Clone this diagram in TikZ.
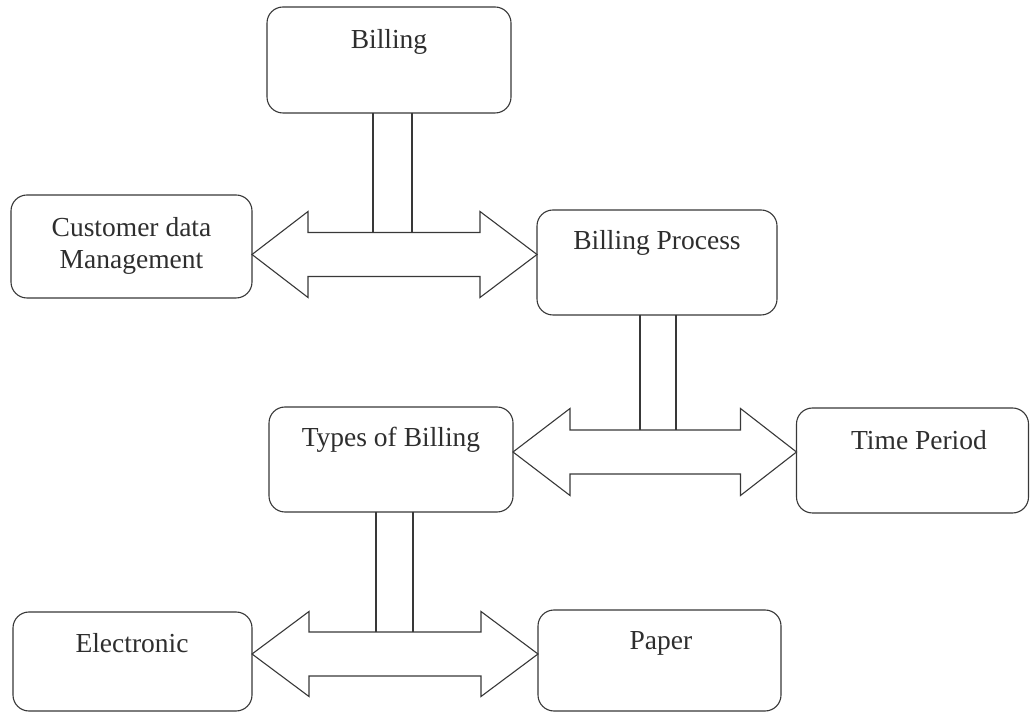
\documentclass[tikz,border=0pt]{standalone}
\usepackage{fontspec}
\setmainfont{Liberation Serif}
\usetikzlibrary{calc}
\begin{document}
\begin{tikzpicture}[x=1pt,y=1pt,
  every node/.style={inner sep=0pt, outer sep=0pt},
  box/.style={draw=black!78, line width=1.1pt, rounded corners=16pt, fill=white},
  lbl/.style={text=black!82, font=\fontsize{27.5}{32}\selectfont, align=center},
  blk/.style={draw=black!78, line width=1.1pt, fill=white, line join=miter},
  stemline/.style={draw=black!78, line width=1.1pt}]
\useasboundingbox (0,0) rectangle (1030,712);

% boxes
\node[box, minimum width=244pt, minimum height=106pt] (bill)  at (389,652) {};
\node[box, minimum width=241pt, minimum height=103pt] (cust)  at (131.5,465.5) {};
\node[box, minimum width=240pt, minimum height=105pt] (proc)  at (657,449.5) {};
\node[box, minimum width=244pt, minimum height=105pt] (types) at (391,252.5) {};
\node[box, minimum width=232pt, minimum height=105pt] (time)  at (912.5,251.5) {};
\node[box, minimum width=239pt, minimum height=99pt]  (elec)  at (132.5,50.5) {};
\node[box, minimum width=243pt, minimum height=101pt] (paper) at (659.5,51.5) {};

% labels
\node[lbl] (billT)  at (389,670) {Billing};
\node[lbl] (custT)  at (131.5,466) {Customer data\\Management};
\node[lbl] (procT)  at (657,469) {Billing Process};
\node[lbl] (typesT) at (391,272) {Types of Billing};
\node[lbl] (timeT)  at (919,272) {Time Period};
\node[lbl] (elecT)  at (132,69) {Electronic};
\node[lbl] (paperT) at (661,69) {Paper};

% axes of the block arrows
\coordinate (ax1) at (0,457.5);
\coordinate (ax2) at (0,260);
\coordinate (ax3) at (0,58);

% double block arrows
\draw[blk] let \p1=(cust.east|-ax1), \p2=(proc.west|-ax1) in
  (\p1) -- (\x1+56pt,\y1+43pt) -- (\x1+56pt,\y1+22pt) -- (\x2-57pt,\y1+22pt) -- (\x2-57pt,\y1+43pt)
  -- (\p2) -- (\x2-57pt,\y1-43pt) -- (\x2-57pt,\y1-22pt) -- (\x1+56pt,\y1-22pt) -- (\x1+56pt,\y1-43pt) -- cycle;
\draw[blk] let \p1=(types.east|-ax2), \p2=(time.west|-ax2) in
  (\p1) -- (\x1+57pt,\y1+43.5pt) -- (\x1+57pt,\y1+22pt) -- (\x2-56pt,\y1+22pt) -- (\x2-56pt,\y1+43.5pt)
  -- (\p2) -- (\x2-56pt,\y1-43.5pt) -- (\x2-56pt,\y1-22pt) -- (\x1+57pt,\y1-22pt) -- (\x1+57pt,\y1-43.5pt) -- cycle;
\draw[blk] let \p1=(elec.east|-ax3), \p2=(paper.west|-ax3) in
  (\p1) -- (\x1+57pt,\y1+42.5pt) -- (\x1+57pt,\y1+22pt) -- (\x2-57pt,\y1+22pt) -- (\x2-57pt,\y1+42.5pt)
  -- (\p2) -- (\x2-57pt,\y1-42.5pt) -- (\x2-57pt,\y1-22pt) -- (\x1+57pt,\y1-22pt) -- (\x1+57pt,\y1-42.5pt) -- cycle;

% shaft tops where the stems land
\coordinate (top1) at ($(ax1)+(0,22)$);
\coordinate (top2) at ($(ax2)+(0,22)$);
\coordinate (top3) at ($(ax3)+(0,22)$);

% stems
\draw[stemline] ([xshift=-16pt]bill.south) -- ([xshift=-16pt]bill.south |- top1);
\draw[stemline] ([xshift=23pt]bill.south) -- ([xshift=23pt]bill.south |- top1);
\draw[stemline] ([xshift=-17pt]proc.south) -- ([xshift=-17pt]proc.south |- top2);
\draw[stemline] ([xshift=19pt]proc.south) -- ([xshift=19pt]proc.south |- top2);
\draw[stemline] ([xshift=-15pt]types.south) -- ([xshift=-15pt]types.south |- top3);
\draw[stemline] ([xshift=22pt]types.south) -- ([xshift=22pt]types.south |- top3);
\end{tikzpicture}
\end{document}
